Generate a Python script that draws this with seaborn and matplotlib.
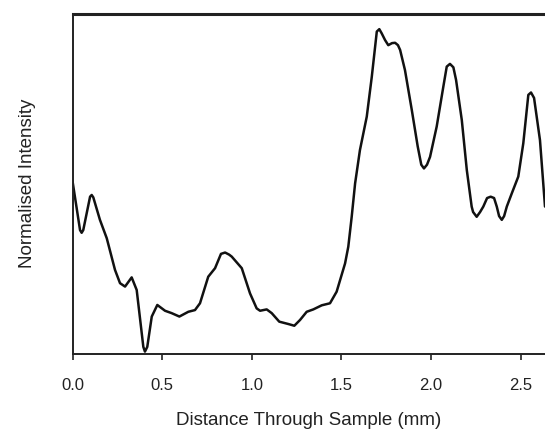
import matplotlib
matplotlib.use("Agg")
import matplotlib.pyplot as plt
import seaborn as sns
import pandas as pd

# distance (mm) and normalised intensity
distance = [0.000, 0.042, 0.051, 0.060, 0.098, 0.107, 0.116, 0.153, 0.191, 0.237,
            0.265, 0.293, 0.330, 0.358, 0.395, 0.404, 0.417, 0.442, 0.473, 0.516,
            0.553, 0.596, 0.646, 0.683, 0.711, 0.757, 0.795, 0.828, 0.851, 0.873,
            0.888, 0.944, 0.990, 1.027, 1.046, 1.083, 1.111, 1.153, 1.204, 1.237,
            1.269, 1.306, 1.343, 1.390, 1.436, 1.473, 1.520, 1.538, 1.557, 1.576,
            1.603, 1.641, 1.669, 1.697, 1.711, 1.724, 1.743, 1.761, 1.782, 1.799,
            1.815, 1.827, 1.854, 1.892, 1.925, 1.945, 1.960, 1.977, 1.994, 2.031,
            2.068, 2.087, 2.105, 2.124, 2.139, 2.171, 2.199, 2.226, 2.234, 2.254,
            2.273, 2.291, 2.312, 2.332, 2.351, 2.366, 2.379, 2.394, 2.407, 2.422,
            2.450, 2.486, 2.514, 2.542, 2.557, 2.574, 2.607, 2.635]
intensity = [0.508, 0.364, 0.356, 0.364, 0.462, 0.467, 0.460, 0.394, 0.340, 0.247,
             0.208, 0.198, 0.225, 0.188, 0.021, 0.007, 0.021, 0.110, 0.144, 0.127,
             0.120, 0.110, 0.124, 0.129, 0.149, 0.227, 0.252, 0.294, 0.298, 0.292,
             0.286, 0.252, 0.178, 0.134, 0.127, 0.131, 0.120, 0.095, 0.088, 0.083,
             0.100, 0.124, 0.131, 0.143, 0.149, 0.183, 0.266, 0.315, 0.403, 0.501,
             0.599, 0.697, 0.814, 0.947, 0.954, 0.942, 0.922, 0.907, 0.913, 0.914,
             0.907, 0.893, 0.834, 0.717, 0.610, 0.556, 0.545, 0.556, 0.579, 0.668,
             0.785, 0.844, 0.852, 0.842, 0.805, 0.687, 0.540, 0.433, 0.417, 0.403,
             0.417, 0.433, 0.458, 0.462, 0.458, 0.433, 0.405, 0.394, 0.405, 0.433,
             0.472, 0.521, 0.619, 0.761, 0.768, 0.752, 0.628, 0.433]
xticks = [0.0, 0.5, 1.0, 1.5, 2.0, 2.5]

df = pd.DataFrame({'distance': distance, 'intensity': intensity})

sns.set_style("ticks")
plt.rcParams['font.family'] = ['Liberation Sans', 'DejaVu Sans']

fig = plt.figure(figsize=(5.45, 4.29), dpi=100)
ax = fig.add_axes([72.5 / 545, 75 / 429, 1 - 72.5 / 545, 340.5 / 429])
sns.lineplot(data=df, x='distance', y='intensity', color='#111111',
             linewidth=1.8, ax=ax)

ax.set_xlim(0, 2.635)
ax.set_ylim(0, 1)
ax.set_xticks(xticks)
ax.set_xticklabels([f'{t:.1f}' for t in xticks], fontsize=12)
ax.set_yticks([])
ax.tick_params(axis='x', direction='out', length=4, width=1.2, color='#222222',
               pad=13, labelcolor='#222222')
ax.set_xlabel('Distance Through Sample (mm)', fontsize=13.5, labelpad=14,
              color='#222222')
ax.set_ylabel('Normalised Intensity', fontsize=13.5, labelpad=26, color='#222222')

ax.spines['right'].set_visible(False)
ax.spines['top'].set_linewidth(2.2)
ax.spines['left'].set_linewidth(1.4)
ax.spines['bottom'].set_linewidth(1.4)
for s in ax.spines.values():
    s.set_color('#222222')

fig.savefig('out.png', dpi=100)
